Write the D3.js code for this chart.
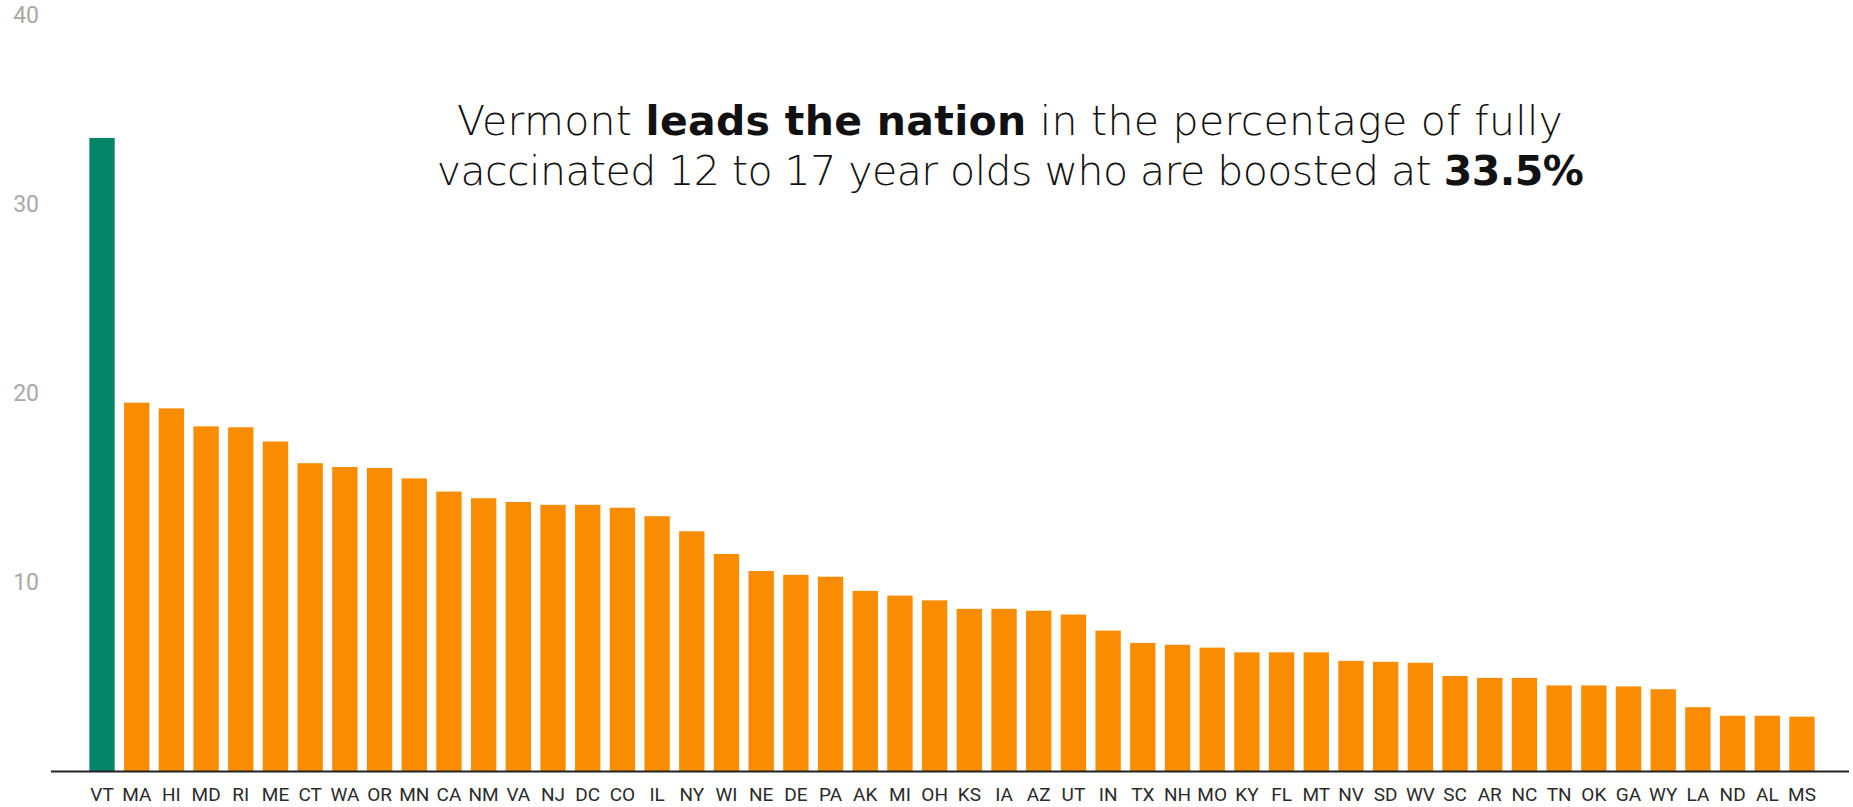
<!DOCTYPE html>
<html>
<head>
<meta charset="utf-8">
<script src="https://cdn.jsdelivr.net/npm/d3@7"></script>
<style>
  html, body { margin: 0; padding: 0; background: #fff; }
  svg { display: block; }
</style>
</head>
<body>
<svg id="chart" width="1853" height="807"></svg>
<script>
const states = ["VT","MA","HI","MD","RI","ME","CT","WA","OR","MN","CA","NM","VA","NJ","DC","CO","IL","NY","WI","NE","DE","PA","AK","MI","OH","KS","IA","AZ","UT","IN","TX","NH","MO","KY","FL","MT","NV","SD","WV","SC","AR","NC","TN","OK","GA","WY","LA","ND","AL","MS"];
const boostedPct = [33.5,19.5,19.2,18.25,18.2,17.45,16.3,16.1,16.05,15.5,14.8,14.45,14.25,14.1,14.1,13.95,13.5,12.7,11.5,10.6,10.4,10.3,9.55,9.3,9.05,8.6,8.6,8.5,8.3,7.45,6.8,6.7,6.55,6.3,6.3,6.3,5.85,5.8,5.75,5.05,4.95,4.95,4.55,4.55,4.5,4.35,3.4,2.95,2.95,2.9];
const yTicks = [10, 20, 30, 40];
const highlightState = "VT";
const titleLine1 = [["Vermont ", false], ["leads the nation", true], [" in the percentage of fully", false]];
const titleLine2 = [["vaccinated 12 to 17 year olds who are boosted at ", false], ["33.5%", true]];

const data = states.map((s, i) => ({ state: s, value: boostedPct[i] }));

const svg = d3.select("#chart");

const x = d3.scaleBand().domain(states).range([72, 1832]).paddingInner(0.27).paddingOuter(0.5);
const y = d3.scaleLinear().domain([0, 40]).range([771.5, 15]);

// bars
svg.append("g").selectAll("rect").data(data).join("rect")
  .attr("x", d => x(d.state))
  .attr("y", d => y(d.value))
  .attr("width", x.bandwidth())
  .attr("height", d => y(0) - y(d.value))
  .attr("fill", d => d.state === highlightState ? "#06846a" : "#f98c00");

// y axis labels
const yAxis = svg.append("g").attr("transform", "translate(39,0)")
  .call(d3.axisLeft(y).tickValues(yTicks).tickSize(0).tickPadding(0));
yAxis.select(".domain").remove();
yAxis.selectAll("text").attr("font-family", "Roboto").attr("font-size", 23).attr("fill", "#a8a8a8");

// x axis
const xAxis = svg.append("g").attr("transform", `translate(0,${y(0)})`)
  .call(d3.axisBottom(x).tickSize(0).tickPadding(16));
xAxis.select(".domain").remove();
xAxis.selectAll("text").attr("font-family", "Roboto").attr("font-size", 19).attr("fill", "#2a2a2a");

svg.append("line")
  .attr("x1", 51).attr("x2", 1849)
  .attr("y1", y(0)).attr("y2", y(0))
  .attr("stroke", "#222").attr("stroke-width", 2);

// title
function titleLine(parts, yPos, target) {
  const t = svg.append("text")
    .attr("x", 1010).attr("y", yPos)
    .attr("text-anchor", "middle")
    .attr("font-family", "'DejaVu Sans', sans-serif")
    .attr("font-size", 41)
    .attr("fill", "#111");
  parts.forEach(([txt, bold]) => {
    t.append("tspan").text(txt).attr("font-weight", bold ? 700 : 300);
  });
  const w = t.node().getComputedTextLength();
  const n = parts.map(p => p[0]).join("").length;
  if (w > 0 && n > 1) t.attr("letter-spacing", ((target - w) / (n - 1)).toFixed(2));
  return t;
}
titleLine(titleLine1, 135, 1106);
titleLine(titleLine2, 185, 1147);
</script>
</body>
</html>
